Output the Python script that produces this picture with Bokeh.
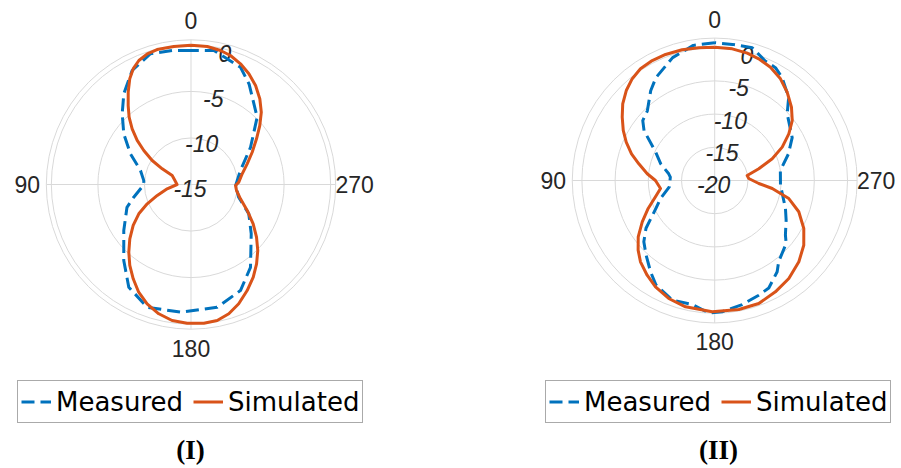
import numpy as np
from bokeh.plotting import figure
from bokeh.models import Range1d, Legend, LegendItem, Label
from bokeh.layouts import row
from bokeh.embed import file_html
from bokeh.resources import INLINE
from bokeh.core.properties import value

# ---------------- data ----------------
# Panel (I): angle in degrees (counter-clockwise from top), normalised gain in dB
theta_sim_1 = [0, 7.1, 14.1, 18.5, 22.8, 26.5, 30.1, 34.2, 38.5, 42.6, 46.6, 50.7, 54.2,
               58.3, 61.4, 64.4, 74.6, 90, 100.2, 108, 113.8, 119.3, 125.3, 131.6,
               137.4, 142.9, 148.5, 154.1, 159.8, 166, 172.1, 178.4, 185.3, 190.9,
               196.3, 201.8, 207.9, 213.9, 219.6, 225.3, 231.2, 237.7, 245.2, 253.9,
               262.5, 268.7, 272.8, 281.8, 290.2, 297.8, 304.9, 310.6, 315.8, 321.2,
               326.9, 332.4, 337.7, 343, 347.6, 353.3]
gain_sim_1 = [-0.05, -0.06, -0.05, -0.2, -0.55, -1.1, -1.88, -3.0, -4.16, -5.18, -6.3,
              -7.53, -8.75, -10.1, -11.48, -12.76, -13.18, -13.5, -12.4, -11.19, -9.86,
              -8.57, -7.39, -6.21, -5.13, -4.1, -3.12, -2.14, -1.35, -0.69, -0.25,
              -0.09, -0.04, -0.12, -0.53, -1.2, -2.11, -3.01, -3.95, -4.91, -5.97,
              -7.1, -8.35, -9.47, -10.07, -10.22, -9.86, -9.38, -8.57, -7.57, -6.42,
              -5.27, -4.17, -3.2, -2.3, -1.58, -0.99, -0.51, -0.26, -0.07]
theta_meas_1 = [0, 8, 17.2, 27.3, 36.5, 44.2, 53, 63.1, 74.5, 85, 90, 102.5, 109.6,
                124.4, 138.5, 148.8, 160.4, 175.3, 192, 205, 215.7, 230.7, 243.1, 255,
                269, 285.8, 302, 315.5, 330, 337.1, 350.3]
gain_meas_1 = [-0.6, -0.47, -0.3, -1.22, -2.87, -4.4, -5.96, -7.7, -9.37, -9.9, -9.95,
               -8.7, -7.7, -6.25, -4.1, -2.1, -1.0, -1.24, -1.52, -2.43, -4.05, -6.64,
               -8.04, -9.7, -10.2, -9.48, -7.46, -4.86, -2.53, -1.33, -0.4]
r_ticks_1 = [-15, -10, -5, 0]
r_lim_1 = (-15, 0.54)

# Panel (II)
theta_sim_2 = [0, 6.8, 14, 21.3, 27.5, 33.6, 39, 44.5, 50.2, 55.6, 61.3, 66.6, 72.2,
               77.6, 84.3, 90, 98.4, 105.4, 112.8, 119.7, 126.4, 132.3, 137.6, 144.5,
               150.9, 158.7, 167, 178.9, 190.6, 199.7, 208.6, 217.1, 226, 234, 241.7,
               249.6, 256.3, 262.1, 266.1, 273.4, 278.7, 284.9, 290.7, 296.3, 302.2,
               307.7, 313.7, 320.6, 327.1, 333.8, 340.1, 345.7, 352.4]
gain_sim_2 = [0.08, 0.12, 0.29, 0.37, 0.37, 0.2, -0.27, -1.0, -1.97, -3.12, -4.3, -5.48,
              -6.84, -8.3, -9.79, -11.08, -11.75, -10.75, -9.13, -7.44, -5.69, -4.41,
              -3.42, -2.48, -1.67, -0.93, -0.48, -0.23, -0.24, -0.32, -0.9, -1.49,
              -2.38, -3.42, -4.76, -6.49, -8.51, -11.25, -13.34, -14.86, -15.05,
              -13.13, -10.74, -8.66, -6.81, -5.24, -4.01, -2.8, -1.76, -0.98, -0.51,
              -0.21, 0.0]
theta_meas_2 = [0, 9, 18.9, 29.7, 35.5, 44, 50.2, 54.8, 64.4, 72.9, 81.7, 85.7, 97.9,
                108.4, 115.4, 124.8, 130.8, 137.3, 144.9, 150.6, 160.4, 169.9, 177.5,
                183.3, 192.5, 201, 206.7, 214.4, 218.3, 228.6, 232.4, 241, 248.5, 266,
                278.6, 289.8, 299, 312.6, 318.3, 326.8, 331.7, 337.1, 344.2, 352.6]
gain_meas_2 = [0.75, 0.6, -0.44, -2.15, -3.4, -5.4, -5.9, -6.98, -10.15, -11.5, -13.0,
               -13.3, -13.1, -11.4, -10.2, -7.4, -5.9, -4.75, -3.2, -1.97, -0.9, -1.0,
               -0.03, -0.2, -0.85, -1.5, -1.87, -3.35, -4.45, -5.65, -6.56, -7.7, -8.55,
               -10.07, -10.0, -8.2, -6.66, -5.17, -3.26, -1.47, -0.7, -0.46, 0.78, 0.67]
r_ticks_2 = [-20, -15, -10, -5, 0]
r_lim_2 = (-20, 1.45)

theta_ticks = [0, 90, 180, 270]
series_names = ["Measured", "Simulated"]
captions = ["(I)", "(II)"]

# ---------------- style ----------------
H = 468
BLUE = "#0072BD"
ORANGE = "#D95319"
GRID = "#d9d9d9"
TEXT = "#262626"
SANS = "Liberation Sans"


def polar_xy(theta_deg, gain, rmin):
    rr = np.clip(np.asarray(gain, dtype=float) - rmin, 0, None)
    t = np.radians(np.asarray(theta_deg, dtype=float))
    x = -rr * np.sin(t)
    y = rr * np.cos(t)
    # close the loop
    return np.append(x, x[0]), np.append(y, y[0])


def panel(width, cx, cy, scale, rlim, rticks, th_s, g_s, th_m, g_m, caption,
          legend_xy, caption_x):
    rmin, rmax = rlim
    p = figure(width=width, height=H,
               x_range=Range1d(-cx / scale, (width - cx) / scale),
               y_range=Range1d(-(H - cy) / scale, cy / scale),
               output_backend="svg", toolbar_location=None, min_border=0,
               x_axis_location=None, y_axis_location=None,
               outline_line_color=None)
    p.grid.visible = False

    outer = rmax - rmin
    radii = [t - rmin for t in rticks if t > rmin] + [outer]
    p.circle(x=[0] * len(radii), y=[0] * len(radii), radius=radii,
             fill_color=None, line_color=GRID, line_width=1)

    tt = np.radians(theta_ticks)
    p.segment(x0=[0] * len(tt), y0=[0] * len(tt),
              x1=list(-outer * np.sin(tt)), y1=list(outer * np.cos(tt)),
              line_color=GRID, line_width=1)

    # angle labels
    rl = outer + 19 / scale
    p.text(x=list(-rl * np.sin(tt)), y=list(rl * np.cos(tt)),
           text=[str(t) for t in theta_ticks], text_align="center",
           text_baseline="middle", text_font=value(SANS),
           text_font_size="23px", text_color=TEXT)

    # radial tick labels along a spoke tilted 14.5 deg to the right
    a = np.radians(14.5)
    rr = np.array([t - rmin for t in rticks]) - 4 / scale
    p.text(x=list(rr * np.sin(a)), y=list(rr * np.cos(a)),
           text=[str(t) for t in rticks], text_align="center",
           text_baseline="middle", text_font=value(SANS),
           text_font_style="italic", text_font_size="23px", text_color=TEXT)

    xm, ym = polar_xy(th_m, g_m, rmin)
    xs, ys = polar_xy(th_s, g_s, rmin)
    r_meas = p.line(xm, ym, line_color=BLUE, line_width=3, line_dash="13 6",
                    line_join="round")
    r_sim = p.line(xs, ys, line_color=ORANGE, line_width=3, line_join="round")

    legend = Legend(items=[LegendItem(label=series_names[0], renderers=[r_meas]),
                           LegendItem(label=series_names[1], renderers=[r_sim])],
                    location=legend_xy, orientation="horizontal",
                    label_text_font="DejaVu Sans", label_text_font_size="26px",
                    label_text_color="#000000",
                    glyph_width=30, glyph_height=35, label_height=35,
                    padding=3, spacing=10, label_standoff=5, margin=0,
                    border_line_color="#555555", border_line_width=1,
                    background_fill_color="white", background_fill_alpha=1)
    p.add_layout(legend)

    p.add_layout(Label(x=caption_x, y=19, x_units="screen", y_units="screen",
                       text=caption, text_font="Liberation Serif",
                       text_font_style="bold", text_font_size="27px",
                       text_align="center", text_baseline="middle",
                       text_color="#000000"))
    return p


p1 = panel(450, 190.5, 184, 9.31, r_lim_1, r_ticks_1, theta_sim_1, gain_sim_1,
           theta_meas_1, gain_meas_1, captions[0], (17, 45), 190)
p2 = panel(451, 264.2, 180, 6.64, r_lim_2, r_ticks_2, theta_sim_2, gain_sim_2,
           theta_meas_2, gain_meas_2, captions[1], (95, 45), 268)

layout = row(p1, p2, spacing=0)
open("out.html", "w").write(file_html(layout, INLINE))
